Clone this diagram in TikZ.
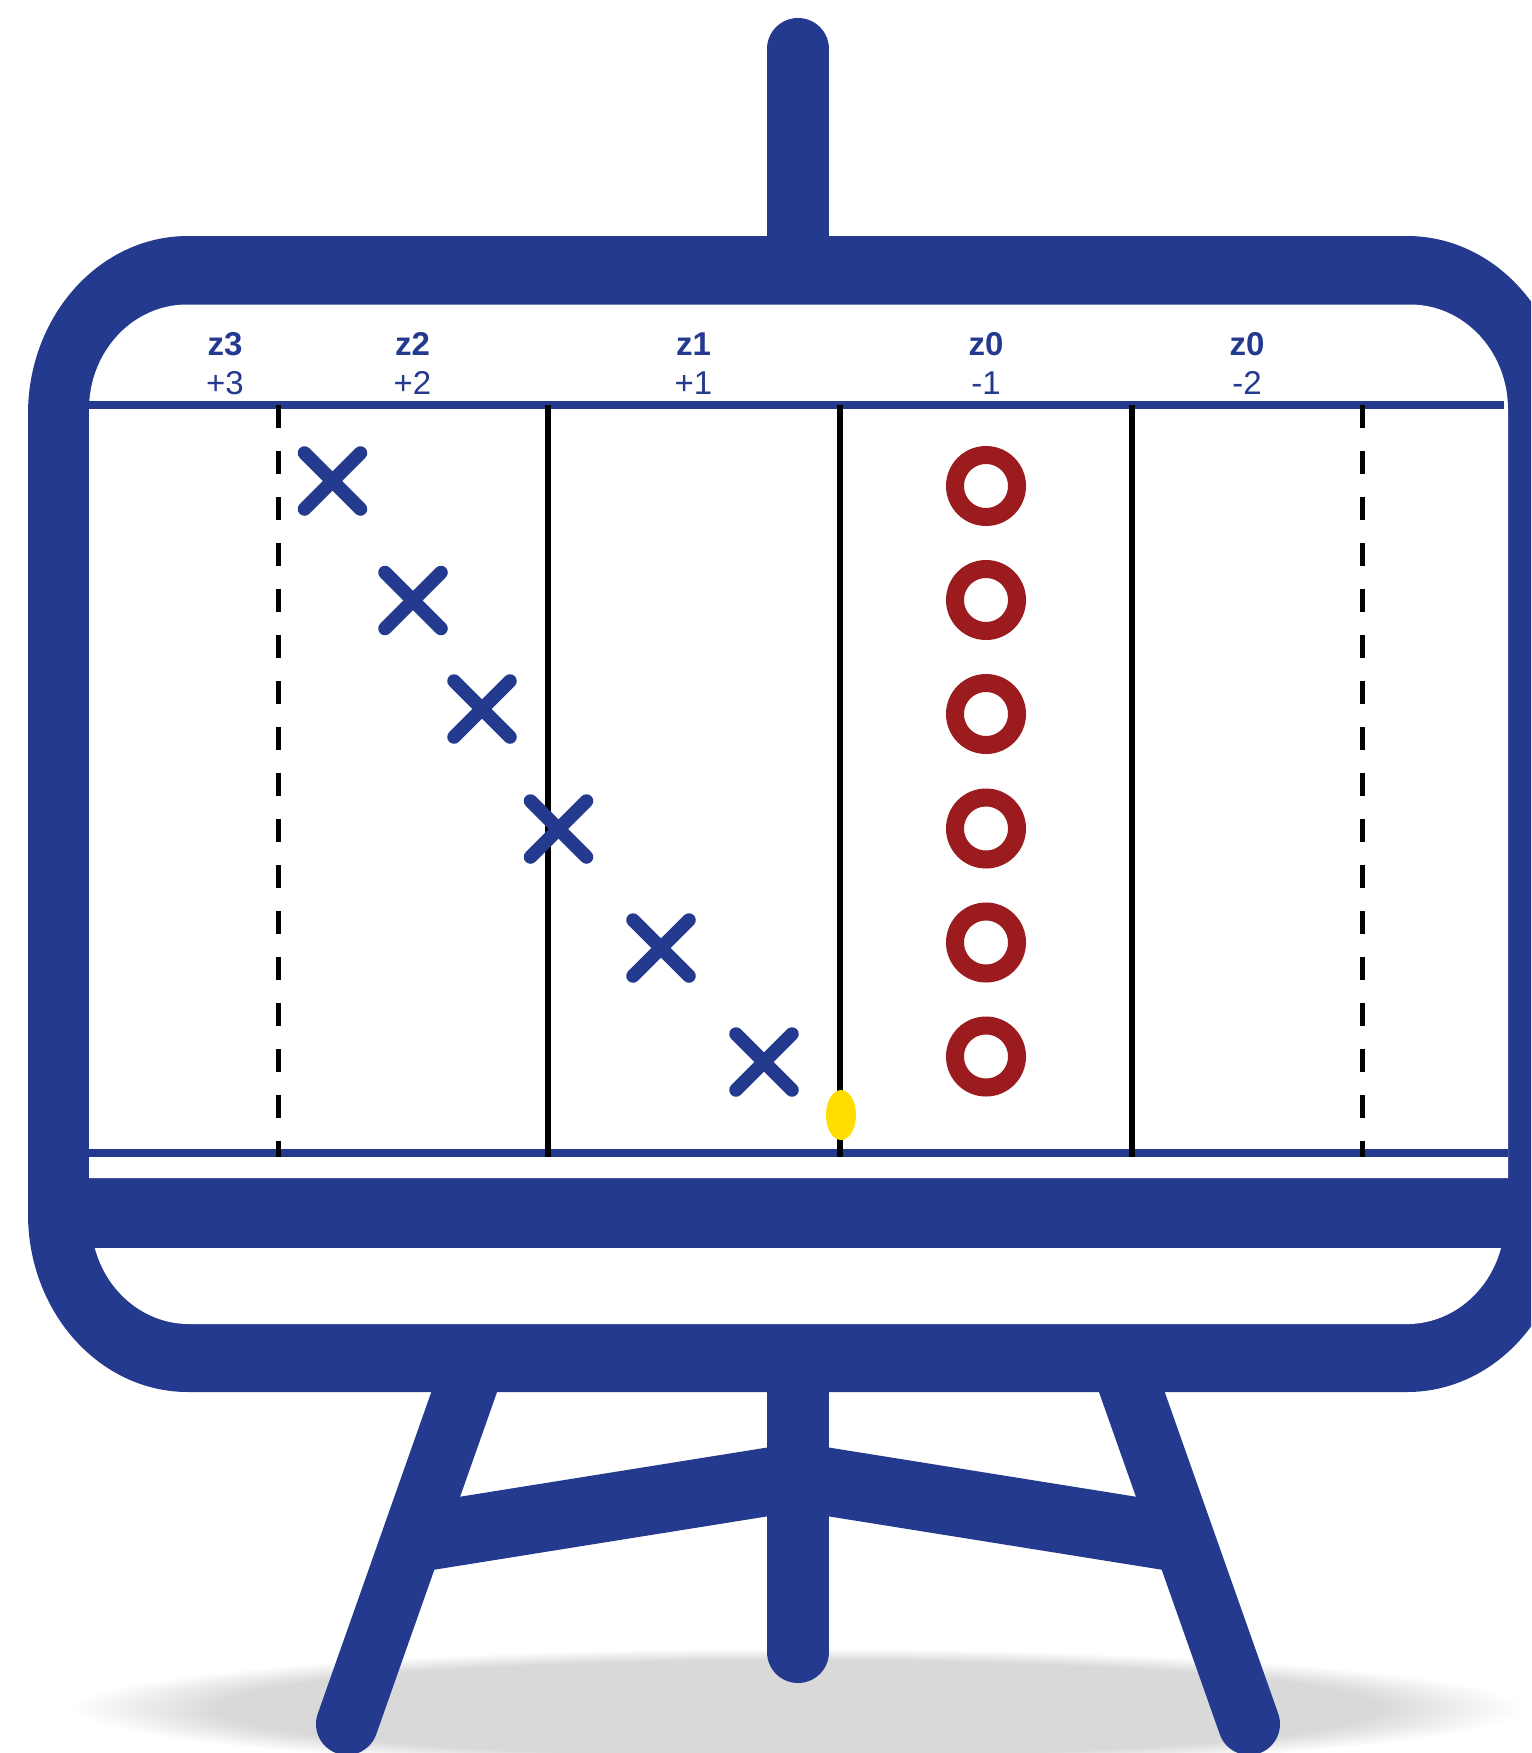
\documentclass[tikz,border=0pt]{standalone}
\usepackage{fontspec}
\setmainfont{Liberation Sans}
\definecolor{boardblue}{HTML}{243A8E}
\definecolor{ringred}{HTML}{9B1B1E}
\definecolor{markyellow}{HTML}{FFDD00}
\pgfdeclareradialshading{softshadow}{\pgfpoint{0bp}{0bp}}{rgb(0bp)=(.85,.85,.85);
  rgb(20bp)=(.85,.85,.85); rgb(25bp)=(1,1,1); rgb(50bp)=(1,1,1)}
\begin{document}
\begin{tikzpicture}[x=1pt,y=-1pt,
  timber/.style={boardblue, line width=62pt},
  brace/.style={boardblue, line width=68pt},
  rule/.style={boardblue, line width=8pt},
  grid/.style={black, line width=5.3pt},
  griddash/.style={grid, dash pattern=on 23pt off 23pt},
  cross/.style={boardblue, line width=13.5pt, line cap=round},
  ring/.style={ringred, line width=18pt},
  head/.style={text=boardblue, inner sep=0pt, anchor=base, font=\fontsize{33}{38}\selectfont\bfseries},
  sub/.style={text=boardblue, inner sep=0pt, anchor=base, font=\fontsize{33}{38}\selectfont}]
\clip (0,0) rectangle (1531,1753);
% shadow
\shade[shading=softshadow] (798,1708) ellipse[x radius=726pt, y radius=60pt];
% legs and mast
\draw[timber, line cap=round] (347,1724) -- (479,1350);
\draw[timber, line cap=round] (1249,1724) -- (1117,1350);
\draw[timber, line cap=round] (798,49) -- (798,1652);
\draw[brace] (411,1539) -- (798,1477) -- (1185,1539);
% board
\fill[boardblue] (28,414) arc[start angle=180, end angle=90, x radius=160pt, y radius=178pt]
  -- (1407,236) arc[start angle=90, end angle=0, x radius=160pt, y radius=178pt]
  -- (1567,1214) arc[start angle=0, end angle=-90, x radius=160pt, y radius=178pt]
  -- (188,1392) arc[start angle=-90, end angle=-180, x radius=160pt, y radius=178pt] -- cycle;
\fill[white] (89,409.5) arc[start angle=180, end angle=90, x radius=98pt, y radius=105pt]
  -- (1410,304.5) arc[start angle=90, end angle=0, x radius=98pt, y radius=105pt]
  -- (1508,1178) -- (89,1178) -- cycle;
\fill[white] (95,1248) -- (1501,1248) arc[start angle=-16, end angle=-90, x radius=98pt, y radius=105pt]
  -- (189,1324) arc[start angle=-90, end angle=-164, x radius=98pt, y radius=105pt] -- cycle;
% rules
\draw[rule] (89,405) -- (1504,405);
\draw[rule] (89,1153) -- (1508,1153);
\draw[griddash] (278.5,405) -- (278.5,1157);
\draw[griddash] (1362.5,405) -- (1362.5,1157);
\foreach \x in {548,840,1132}
  \draw[grid] (\x,405) -- (\x,1157);
% column labels
\foreach \x/\lab/\val/\name in {225/z3/+3/a,412.5/z2/+2/b,693.5/z1/+1/c,986/z0/-1/d,1247/z0/-2/e} {
  \node[head] (head\name) at (\x,355) {\lab};
  \node[sub] (sub\name) at (\x,394) {\val};
}
% points
\foreach \x/\y in {332.5/481,413/600.5,482/709,558.5/829,661/948,764/1062} {
  \draw[cross] (\x-28,\y-28) -- (\x+28,\y+28);
  \draw[cross] (\x-28,\y+28) -- (\x+28,\y-28);
}
\foreach \y in {486,600,714,828.5,942.5,1056.5}
  \draw[ring] (986,\y) circle[radius=31pt];
\fill[markyellow] (841,1115) ellipse[x radius=15pt, y radius=25pt];
\end{tikzpicture}
\end{document}
